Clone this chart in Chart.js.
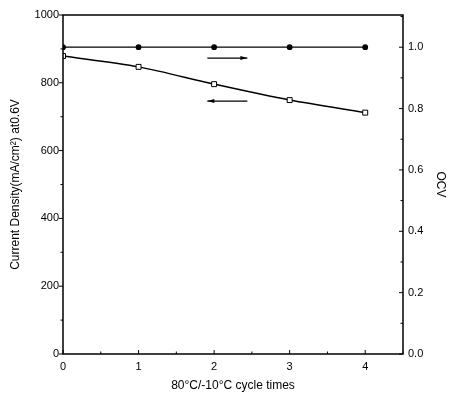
<!DOCTYPE html>
<html>
<head>
<meta charset="utf-8">
<script src="https://cdn.jsdelivr.net/npm/chart.js@4.4.0/dist/chart.umd.min.js"></script>
<style>
  body { margin: 0; background: #fff; }
  #wrap { width: 450px; height: 395px; }
</style>
</head>
<body>
<div id="wrap"><canvas id="chart" width="450" height="395"></canvas></div>
<script>
// values
const cycles = [0, 1, 2, 3, 4];
const currentDensity = [879, 847, 796, 749, 712];
const ocv = [1.0, 1.0, 1.0, 1.0, 1.0];

// arrows: [xStart, xEnd, y on left scale, direction]
const arrows = [
    { x0: 1.91, x1: 2.44, y: 873, dir: 'right' },
    { x0: 1.91, x1: 2.44, y: 746, dir: 'left' }
];

// frame, inward ticks and arrows
const framePlugin = {
    id: 'frame',
    afterDatasetsDraw(chart) {
        const ctx = chart.ctx;
        const area = chart.chartArea;
        const xs = chart.scales.x, yl = chart.scales.y, yr = chart.scales.y1;
        ctx.save();
        ctx.strokeStyle = '#000';
        ctx.lineWidth = 1.5;
        ctx.strokeRect(area.left, area.top, area.right - area.left, area.bottom - area.top);

        ctx.lineWidth = 1;
        ctx.beginPath();
        // x ticks (major every 1, minor every 0.5)
        for (let v = 0; v <= 4.5; v += 0.5) {
            const px = xs.getPixelForValue(v);
            const len = (v % 1 === 0) ? 4 : 2.5;
            ctx.moveTo(px, area.bottom);
            ctx.lineTo(px, area.bottom - len);
        }
        // left ticks
        for (let v = 0; v <= 1000; v += 100) {
            const py = yl.getPixelForValue(v);
            const len = (v % 200 === 0) ? 4 : 2.5;
            ctx.moveTo(area.left, py);
            ctx.lineTo(area.left - len, py);
        }
        // right ticks
        for (let i = 0; i <= 11; i++) {
            const py = yr.getPixelForValue(i / 10);
            const len = (i % 2 === 0) ? 4 : 2.5;
            ctx.moveTo(area.right, py);
            ctx.lineTo(area.right - len, py);
        }
        ctx.stroke();

        // arrows
        arrows.forEach(a => {
            const x0 = xs.getPixelForValue(a.x0);
            const x1 = xs.getPixelForValue(a.x1);
            const py = yl.getPixelForValue(a.y);
            ctx.lineWidth = 1.3;
            ctx.beginPath();
            ctx.moveTo(x0, py);
            ctx.lineTo(x1, py);
            ctx.stroke();
            const tip = a.dir === 'right' ? x1 : x0;
            const back = a.dir === 'right' ? -7 : 7;
            ctx.beginPath();
            ctx.moveTo(tip, py);
            ctx.lineTo(tip + back, py - 2);
            ctx.lineTo(tip + back, py + 2);
            ctx.closePath();
            ctx.fillStyle = '#000';
            ctx.fill();
        });
        ctx.restore();
    }
};

const font = { family: 'Liberation Sans, Arial, sans-serif', size: 11 };
const titleFont = { family: 'Liberation Sans, Arial, sans-serif', size: 12 };

new Chart(document.getElementById('chart'), {
    type: 'line',
    data: {
        datasets: [
            {
                label: 'Current Density',
                data: cycles.map((c, i) => ({ x: c, y: currentDensity[i] })),
                yAxisID: 'y',
                borderColor: '#000',
                borderWidth: 1.5,
                tension: 0.3,
                pointStyle: 'rect',
                pointRadius: 3.5,
                pointBackgroundColor: '#fff',
                pointBorderColor: '#000',
                pointBorderWidth: 1
            },
            {
                label: 'OCV',
                data: cycles.map((c, i) => ({ x: c, y: ocv[i] })),
                yAxisID: 'y1',
                borderColor: '#000',
                borderWidth: 1.2,
                tension: 0,
                pointStyle: 'circle',
                pointRadius: 2.3,
                pointBackgroundColor: '#000',
                pointBorderColor: '#000'
            }
        ]
    },
    options: {
        responsive: false,
        animation: false,
        layout: { padding: { top: 15, left: 0, right: 0, bottom: 0 } },
        plugins: {
            legend: { display: false },
            tooltip: { enabled: false }
        },
        scales: {
            x: {
                type: 'linear',
                min: 0,
                max: 4.5,
                grid: { display: false, drawTicks: false },
                border: { display: false },
                ticks: {
                    stepSize: 1,
                    includeBounds: false,
                    padding: 6,
                    color: '#000',
                    font: font
                },
                title: {
                    display: true,
                    text: '80°C/-10°C cycle times',
                    color: '#000',
                    font: titleFont,
                    padding: { top: 4, bottom: 2 }
                },
                afterFit(scale) { scale.height = 41; }
            },
            y: {
                position: 'left',
                min: 0,
                max: 1000,
                grid: { display: false, drawTicks: false },
                border: { display: false },
                ticks: {
                    stepSize: 200,
                    padding: 4,
                    color: '#000',
                    font: font,
                    callback: v => String(v)
                },
                title: {
                    display: true,
                    text: 'Current Density(mA/cm²) at0.6V',
                    color: '#000',
                    font: titleFont,
                    padding: { top: 8, bottom: 0 }
                },
                afterFit(scale) { scale.width = 63; }
            },
            y1: {
                position: 'right',
                min: 0,
                max: 1.105,
                grid: { display: false, drawTicks: false },
                border: { display: false },
                ticks: {
                    stepSize: 0.2,
                    includeBounds: false,
                    padding: 5,
                    color: '#000',
                    font: font,
                    callback: v => v.toFixed(1)
                },
                title: {
                    display: true,
                    text: 'OCV',
                    color: '#000',
                    font: titleFont,
                    padding: { top: 2, bottom: 0 }
                },
                afterFit(scale) { scale.width = 47; }
            }
        }
    },
    plugins: [framePlugin]
});
</script>
</body>
</html>
